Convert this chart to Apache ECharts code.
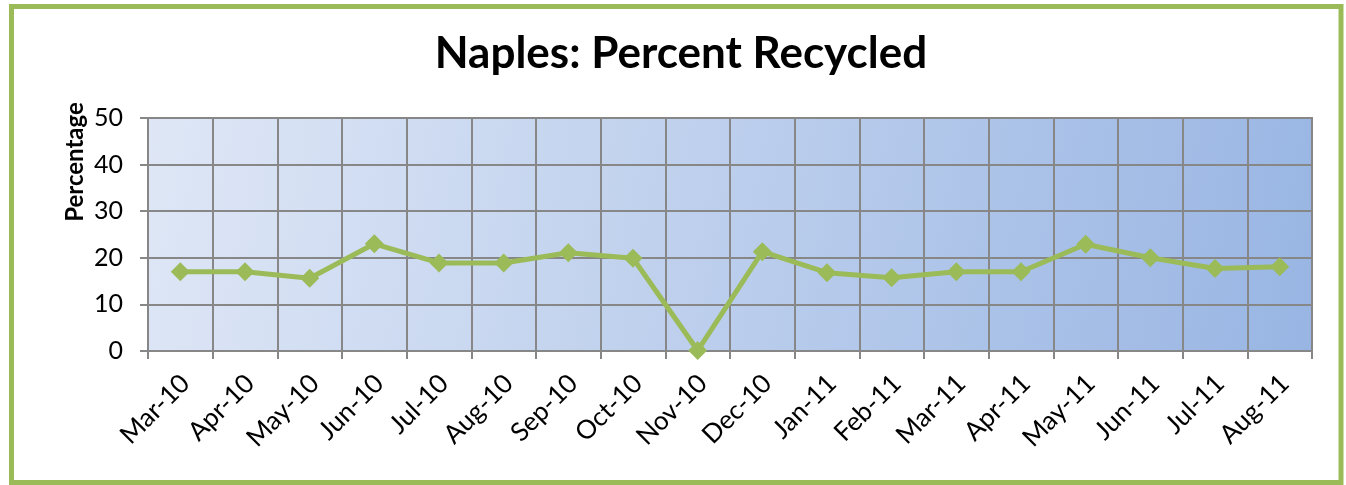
<!DOCTYPE html>
<html>
<head>
<meta charset="utf-8">
<script src="https://cdn.jsdelivr.net/npm/echarts@6/dist/echarts.min.js"></script>
<style>
html,body{margin:0;padding:0;background:#fff;}
#c{width:1346px;height:485px;}
</style>
</head>
<body>
<div id="c"></div>
<script>
const categories = ['Mar-10','Apr-10','May-10','Jun-10','Jul-10','Aug-10','Sep-10','Oct-10','Nov-10','Dec-10','Jan-11','Feb-11','Mar-11','Apr-11','May-11','Jun-11','Jul-11','Aug-11'];
const percentRecycled = [17.0,17.0,15.6,23.0,18.9,18.9,21.1,19.9,0.1,21.3,16.8,15.7,17.0,17.0,22.9,20.0,17.7,18.1];
const yTicks = [0,10,20,30,40,50];

const chart = echarts.init(document.getElementById('c'), null, {renderer:'canvas'});
const grid = '#878787';
chart.setOption({
  animation:false,
  backgroundColor:'#ffffff',
  title:{
    text:'Naples: Percent Recycled',
    left:676, top:27, textAlign:'center',
    textStyle:{fontFamily:'Lato', fontWeight:'bold', fontSize:44, color:'#000'}
  },
  graphic:[
    {type:'rect', shape:{x:11.5,y:6.5,width:1329.5,height:476}, style:{fill:null, stroke:'#9BBB59', lineWidth:5}, z:100},
    {type:'text', x:75, y:162, rotation:Math.PI/2, style:{text:'Percentage', fontFamily:'Lato', fontWeight:'bold', fontSize:24, fill:'#000', textAlign:'center', textVerticalAlign:'middle'}}
  ],
  grid:{
    left:148, right:34, top:118, bottom:134, show:true,
    borderColor:grid, borderWidth:2,
    backgroundColor:new echarts.graphic.LinearGradient(0,0,1,1,[{offset:0,color:'#DFE7F6'},{offset:1,color:'#98B5E3'}])
  },
  xAxis:{
    type:'category', data:categories, boundaryGap:true,
    axisLine:{show:true, lineStyle:{color:grid, width:2}},
    axisTick:{show:true, length:8, lineStyle:{color:grid, width:2}},
    splitLine:{show:true, lineStyle:{color:grid, width:2}},
    axisLabel:{rotate:45, interval:0, margin:33, padding:[0,-7,0,0], fontFamily:'Lato', fontSize:26, color:'#000'}
  },
  yAxis:{
    type:'value', min:yTicks[0], max:yTicks[yTicks.length-1], interval:10,
    axisLine:{show:true, lineStyle:{color:grid, width:2}},
    axisTick:{show:true, length:8, lineStyle:{color:grid, width:2}},
    splitLine:{show:true, lineStyle:{color:grid, width:2}},
    axisLabel:{margin:25, fontFamily:'Lato', fontSize:25, color:'#000'}
  },
  series:[{
    type:'line', data:percentRecycled,
    lineStyle:{color:'#9BBB59', width:5},
    itemStyle:{color:'#9BBB59'},
    symbol:'diamond', symbolSize:19, showSymbol:true
  }]
});
</script>
</body>
</html>
